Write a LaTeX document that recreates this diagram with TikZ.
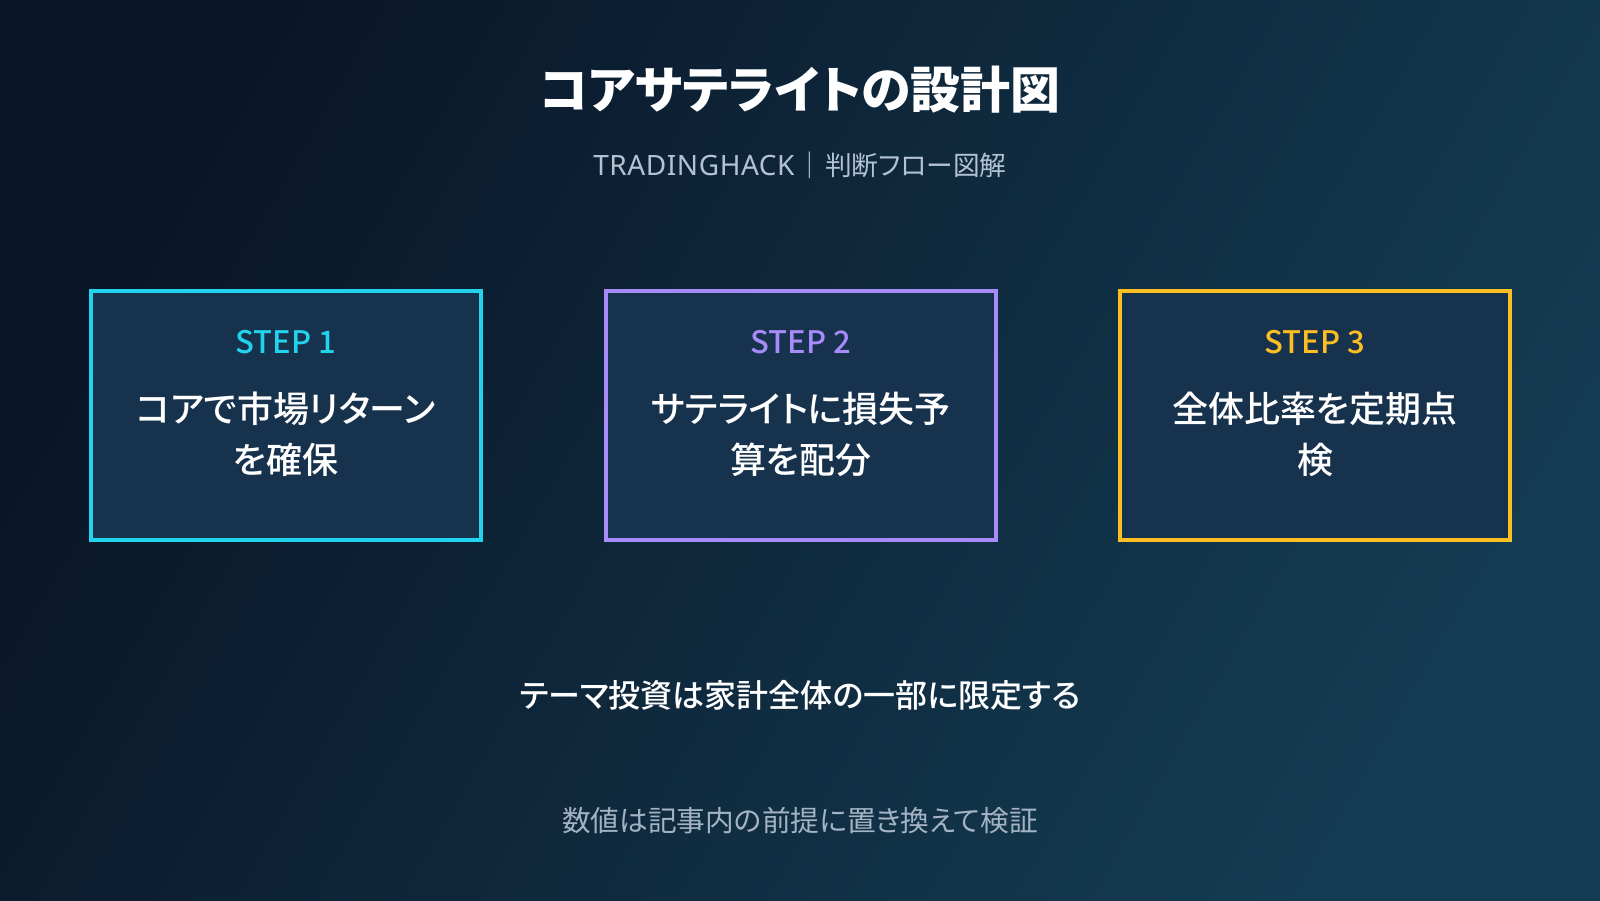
\documentclass[tikz,border=0pt]{standalone}
\usepackage{fontspec}
\setmainfont{Noto Sans CJK JP}[RawFeature={+palt}]
\newfontfamily\medf{Noto Sans CJK JP Medium}[RawFeature={+palt}]
\newfontfamily\latinf{Noto Sans}[LetterSpace=2]
\definecolor{bgA}{HTML}{0A1628}
\definecolor{bgB}{HTML}{143C52}
\definecolor{boxfill}{HTML}{17324D}
\definecolor{cyanc}{HTML}{22D3EE}
\definecolor{purplec}{HTML}{A78BFA}
\definecolor{amberc}{HTML}{FBBF24}
\definecolor{subc}{HTML}{B4C3D3}
\definecolor{footc}{HTML}{A3B3C3}
\begin{document}
\begin{tikzpicture}[x=1pt,y=-1pt,
  stepbox/.style={draw, line width=4pt, fill=boxfill, minimum width=390pt, minimum height=249pt, inner sep=0pt},
  steplabel/.style={font=\fontsize{31}{36}\selectfont\medf},
  stepbody/.style={text=white, font=\fontsize{36}{51}\selectfont\medf, align=center, text width=340pt}
]
\useasboundingbox (0,0) rectangle (1600,900);
\shade[left color=bgA, right color=bgB, shading angle=60] (0,0) rectangle (1600,900);
\node[text=white, font=\fontsize{50}{60}\selectfont\bfseries] (title) at (800,90) {コアサテライトの設計図};
\node[text=subc, font=\fontsize{26.7}{30}\selectfont] (sub) at (800,165) {{\latinf\fontsize{28}{30}\selectfont TRADINGHACK}\hspace{2pt}｜\hspace{2pt}判断フロー図解};

\node[stepbox, draw=cyanc] (b1) at (286,415) {};
\node[stepbox, draw=purplec] (b2) at (801,415) {};
\node[stepbox, draw=amberc] (b3) at (1315,415) {};

\node[steplabel, text=cyanc] (l1) at (286,342) {STEP 1};
\node[steplabel, text=purplec] (l2) at (801,342) {STEP 2};
\node[steplabel, text=amberc] (l3) at (1315,342) {STEP 3};

\node[stepbody] (t1) at (286,434) {コアで市場リターン\\を確保};
\node[stepbody] (t2) at (801,434) {サテライトに損失予\\算を配分};
\node[stepbody] (t3) at (1315,434) {全体比率を定期点\\検};

\node[text=white, font=\fontsize{32}{38}\selectfont\medf] (msg) at (800,695) {テーマ投資は家計全体の一部に限定する};
\node[text=footc, font=\fontsize{28.7}{34}\selectfont] (foot) at (800,821) {数値は記事内の前提に置き換えて検証};
\end{tikzpicture}
\end{document}
